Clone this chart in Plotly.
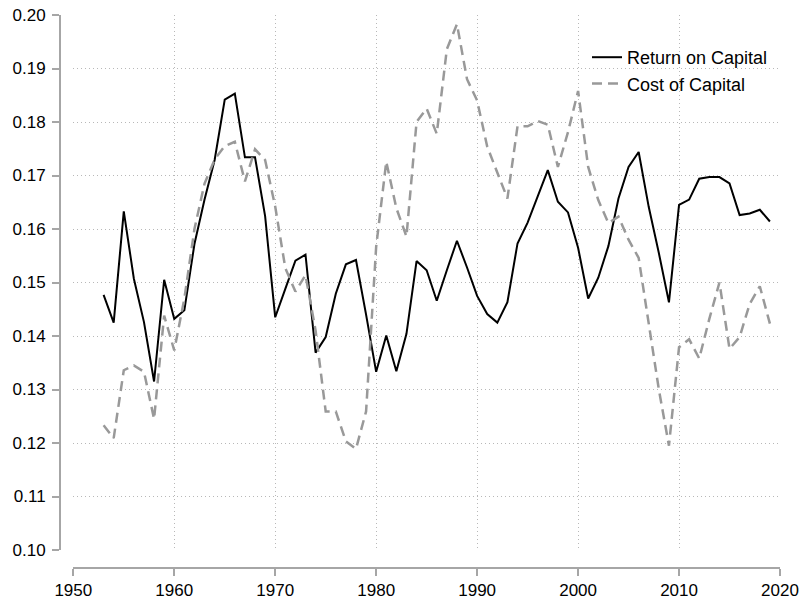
import plotly.graph_objects as go

years = list(range(1953, 2020))

return_on_capital = [
    0.1477, 0.1425, 0.1633, 0.1507, 0.1426, 0.1315, 0.1505, 0.1432, 0.1448, 0.1572,
    0.1655, 0.1729, 0.1842, 0.1853, 0.1734, 0.1734, 0.1624, 0.1435, 0.1488, 0.1541,
    0.1552, 0.1369, 0.1398, 0.1479, 0.1534, 0.1542, 0.1440, 0.1333, 0.1401, 0.1334,
    0.1404, 0.1540, 0.1523, 0.1466, 0.1523, 0.1578, 0.1528, 0.1475, 0.1441, 0.1425,
    0.1463, 0.1573, 0.1612, 0.1660, 0.1710, 0.1651, 0.1631, 0.1565, 0.1470, 0.1509,
    0.1568, 0.1657, 0.1716, 0.1744, 0.1641, 0.1555, 0.1463, 0.1645, 0.1655, 0.1694,
    0.1697, 0.1697, 0.1685, 0.1626, 0.1629, 0.1636, 0.1614,
]

cost_of_capital = [
    0.1233, 0.1209, 0.1336, 0.1345, 0.1333, 0.1245, 0.1438, 0.1373, 0.1470, 0.1600,
    0.1685, 0.1730, 0.1755, 0.1763, 0.1689, 0.1749, 0.1729, 0.1642, 0.1527, 0.1483,
    0.1514, 0.1410, 0.1259, 0.1259, 0.1203, 0.1189, 0.1259, 0.1567, 0.1726, 0.1639,
    0.1586, 0.1800, 0.1825, 0.1778, 0.1936, 0.1983, 0.1880, 0.1840, 0.1754, 0.1707,
    0.1657, 0.1792, 0.1792, 0.1802, 0.1795, 0.1716, 0.1781, 0.1858, 0.1716, 0.1654,
    0.1611, 0.1623, 0.1580, 0.1546, 0.1420, 0.1300, 0.1195, 0.1379, 0.1394, 0.1358,
    0.1432, 0.1500, 0.1376, 0.1398, 0.1460, 0.1493, 0.1423,
]

x_ticks = [1950, 1960, 1970, 1980, 1990, 2000, 2010, 2020]
y_ticks = [0.10, 0.11, 0.12, 0.13, 0.14, 0.15, 0.16, 0.17, 0.18, 0.19, 0.20]
y_tick_labels = ["0.10", "0.11", "0.12", "0.13", "0.14", "0.15", "0.16", "0.17", "0.18", "0.19", "0.20"]

FONT = "Liberation Sans, Arial, Helvetica, sans-serif"
AXIS_GRAY = "#a6a6a6"
GRID_GRAY = "#b8b8b8"

fig = go.Figure()
fig.add_trace(go.Scatter(
    x=years, y=return_on_capital, mode="lines", name="Return on Capital",
    line=dict(color="black", width=2), legendgroup="a",
))
fig.add_trace(go.Scatter(
    x=years, y=cost_of_capital, mode="lines", name="Cost of Capital",
    line=dict(color="#999999", width=2.5, dash="10px,6px"), legendgroup="b",
))

W, H = 800, 604
ml, mr, mt, mb = 60, 20, 15, 36
pw = W - ml - mr
ph = H - mt - mb

fig.update_layout(
    width=W, height=H,
    margin=dict(l=ml, r=mr, t=mt, b=mb, pad=0, autoexpand=False),
    paper_bgcolor="white", plot_bgcolor="white",
    font=dict(family=FONT, size=17, color="black"),
    showlegend=True,
    hovermode=False,
    legend=dict(
        x=(587 - ml) / pw, y=1 - (39 - mt) / ph, xanchor="left", yanchor="top",
        bgcolor="rgba(0,0,0,0)", borderwidth=0,
        font=dict(family=FONT, size=18, color="black"),
        tracegroupgap=8, traceorder="normal",
    ),
    xaxis=dict(
        domain=[(73.3 - ml) / pw, 1], range=[1950, 2020],
        anchor="free", position=0, automargin=False,
        tickmode="array", tickvals=x_ticks,
        ticks="outside", ticklen=7, tickwidth=1.5, tickcolor=AXIS_GRAY,
        showline=True, linecolor=AXIS_GRAY, linewidth=2,
        showgrid=True, gridcolor=GRID_GRAY, griddash="1px,3px", gridwidth=1,
        zeroline=False, tickfont=dict(family=FONT, size=17, color="black"),
        ticklabelstandoff=0,
    ),
    yaxis=dict(
        domain=[(568 - 550) / ph, 1], range=[0.10, 0.20],
        anchor="free", position=0, automargin=False,
        tickmode="array", tickvals=y_ticks, ticktext=y_tick_labels,
        ticks="outside", ticklen=7, tickwidth=1.5, tickcolor=AXIS_GRAY,
        showline=True, linecolor=AXIS_GRAY, linewidth=2,
        showgrid=True, gridcolor=GRID_GRAY, griddash="1px,3px", gridwidth=1,
        zeroline=False, tickfont=dict(family=FONT, size=17, color="black"),
        ticklabelstandoff=3,
    ),
)

fig.write_html(
    "out.html",
    config={"displayModeBar": False},
    post_script="document.body.style.margin='0';document.body.style.padding='0';",
)
